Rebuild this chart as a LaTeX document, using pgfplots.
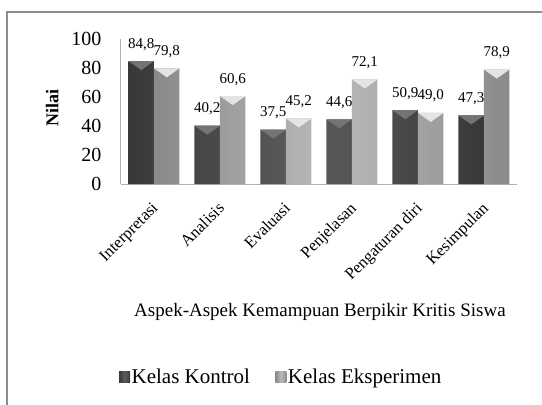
\documentclass[border=0pt]{standalone}
\usepackage{fontspec}
\setmainfont{Liberation Serif}
\usepackage{pgfplots}
\pgfplotsset{compat=1.18}
\definecolor{kdark}{HTML}{383838}
\definecolor{kmid}{HTML}{5C5C5C}
\definecolor{kcap}{HTML}{747474}
\definecolor{edark}{HTML}{8A8A8A}
\definecolor{emid}{HTML}{BABABA}
\definecolor{ecap}{HTML}{E4E4E4}
\definecolor{framec}{HTML}{8C8C8C}
\newcommand{\kcap}{\tikz\fill[kcap] (0pt,0pt) -- (25.5pt,0pt) -- (12.75pt,-9pt) -- cycle;}
\newcommand{\ecap}{\tikz\fill[ecap] (0pt,0pt) -- (25.5pt,0pt) -- (12.75pt,-9pt) -- cycle;}
\begin{document}
\begin{tikzpicture}[x=1pt,y=1pt]
\useasboundingbox (0,0) rectangle (542,405);
\draw[framec, line width=1.2pt] (7,-5) -- (7,393) -- (550,393);
\begin{axis}[
  at={(121pt,221pt)}, anchor=south west,
  scale only axis, width=396pt, height=145pt,
  xmin=-0.5, xmax=5.5, ymin=0, ymax=100,
  ybar=0pt, bar width=25.5pt,
  xtick={0,...,5},
  xticklabels={Interpretasi,Analisis,Evaluasi,Penjelasan,Pengaturan diri,Kesimpulan},
  ytick={0,20,...,100},
  tick style={draw=none},
  axis x line*=bottom, axis y line*=left,
  axis line style={draw=gray!60, line width=1pt, -},
  /pgf/number format/assume math mode=true,
  yticklabel style={font=\fontsize{20}{22}\selectfont, xshift=-16pt},
  xticklabel style={yshift=-8pt, xshift=-3pt, rotate=45, anchor=north east, font=\fontsize{16.5}{19}\selectfont},
  ylabel={Nilai},
  ylabel style={at={(axis description cs:-0.174,0.524)}, anchor=center, font=\fontsize{18}{20}\selectfont\bfseries},
  xlabel={Aspek-Aspek Kemampuan Berpikir Kritis Siswa},
  xlabel style={at={(axis description cs:0.5025,-0.883)}, anchor=center, font=\fontsize{19}{22}\selectfont},
  legend columns=2,
  legend style={at={(axis description cs:0.404,-1.331)}, anchor=center, draw=none, fill=none,
    font=\fontsize{21}{24}\selectfont, nodes={inner sep=1.5pt},
    /tikz/every even column/.append style={column sep=24pt}},
  legend image code/.code={\path[#1] (0pt,-5.5pt) rectangle (11pt,5.5pt);},
]
\addplot[draw=none, bar shift=-12.75pt, left color=kdark, right color=kdark, middle color=kmid]
  coordinates {(0,84.8) (1,40.2) (2,37.5) (3,44.6) (4,50.9) (5,47.3)};
\addplot[draw=none, bar shift=12.75pt, left color=edark, right color=edark, middle color=emid]
  coordinates {(0,79.8) (1,60.6) (2,45.2) (3,72.1) (4,49.0) (5,78.9)};
\legend{Kelas Kontrol, Kelas Eksperimen}
% bevelled caps of the 3-D bars
\addplot[forget plot, draw=none, fill=none, bar shift=-12.75pt, nodes near coords={\kcap},
  nodes near coords style={inner sep=0pt, outer sep=0pt, anchor=south, yshift=-9pt}]
  coordinates {(0,84.8) (1,40.2) (2,37.5) (3,44.6) (4,50.9) (5,47.3)};
\addplot[forget plot, draw=none, fill=none, bar shift=12.75pt, nodes near coords={\ecap},
  nodes near coords style={inner sep=0pt, outer sep=0pt, anchor=south, yshift=-9pt}]
  coordinates {(0,79.8) (1,60.6) (2,45.2) (3,72.1) (4,49.0) (5,78.9)};
% value labels
\addplot[forget plot, draw=none, fill=none, bar shift=-12.75pt,
  nodes near coords={\pgfmathprintnumber[fixed,fixed zerofill,precision=1,use comma]{\pgfplotspointmeta}},
  nodes near coords style={font=\fontsize{15}{17}\selectfont, text=black, anchor=base, yshift=13pt}]
  coordinates {(0,84.8) (1,40.2) (2,37.5) (3,44.6) (4,50.9) (5,47.3)};
\addplot[forget plot, draw=none, fill=none, bar shift=12.75pt,
  nodes near coords={\pgfmathprintnumber[fixed,fixed zerofill,precision=1,use comma]{\pgfplotspointmeta}},
  nodes near coords style={font=\fontsize{15}{17}\selectfont, text=black, anchor=base, yshift=13pt}]
  coordinates {(0,79.8) (1,60.6) (2,45.2) (3,72.1) (4,49.0) (5,78.9)};
\end{axis}
\end{tikzpicture}
\end{document}
